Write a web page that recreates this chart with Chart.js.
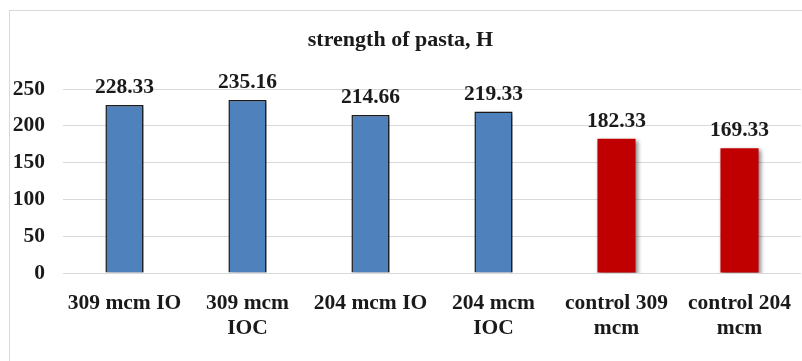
<!DOCTYPE html>
<html>
<head>
<meta charset="utf-8">
<title>strength of pasta, H</title>
<script src="https://cdn.jsdelivr.net/npm/chart.js@4.4.1/dist/chart.umd.min.js"></script>
<style>
  html, body { margin: 0; padding: 0; background: #ffffff; }
  #wrap { position: relative; width: 802px; height: 361px; overflow: hidden; }
  #frame { position: absolute; left: 9px; top: 10px; width: 900px; height: 400px;
           border: 1px solid #d9d9d9; box-sizing: border-box; }
  canvas { position: absolute; left: 0; top: 0; }
</style>
</head>
<body>
<div id="wrap">
  <div id="frame"></div>
  <canvas id="chart" width="802" height="361"></canvas>
</div>
<script>
// Samples (multi-line category labels) and measured strength values
const categories = [
  ["309 mcm IO"],
  ["309 mcm", "IOC"],
  ["204 mcm IO"],
  ["204 mcm", "IOC"],
  ["control 309", "mcm"],
  ["control 204", "mcm"]
];
const strength = [228.33, 235.16, 214.66, 219.33, 182.33, 169.33];
const isControl = [false, false, false, false, true, true];
const yTickValues = [0, 50, 100, 150, 200, 250];

const FONT = "'Liberation Serif', 'Times New Roman', serif";
const TEXT = '#1a1a1a';
const BLUE = '#4f81bd';
const RED = '#c00000';
const SIZE = 21.5;

// Soft drop shadow under the bars, then the value labels on top
const barDecor = {
  id: 'barDecor',
  beforeDatasetsDraw(chart) {
    const ctx = chart.ctx;
    ctx.save();
    ctx.shadowColor = 'rgba(0,0,0,0.45)';
    ctx.shadowBlur = 4;
    ctx.shadowOffsetX = 2;
    ctx.shadowOffsetY = 2;
  },
  afterDatasetsDraw(chart) {
    const ctx = chart.ctx;
    ctx.restore();
    ctx.save();
    ctx.font = 'bold ' + SIZE + 'px ' + FONT;
    ctx.fillStyle = TEXT;
    ctx.textAlign = 'center';
    ctx.textBaseline = 'alphabetic';
    const meta = chart.getDatasetMeta(0);
    meta.data.forEach((bar, i) => {
      ctx.fillText(strength[i].toFixed(2), bar.x, bar.y - 12);
    });
    ctx.restore();
  }
};

new Chart(document.getElementById('chart'), {
  type: 'bar',
  data: {
    labels: categories,
    datasets: [{
      data: strength,
      backgroundColor: ctx => isControl[ctx.dataIndex] ? RED : BLUE,
      borderColor: '#1c1c1c',
      borderWidth: ctx => isControl[ctx.dataIndex] ? 0 : 1.5,
      barPercentage: 0.31,
      categoryPercentage: 1.0
    }]
  },
  options: {
    responsive: false,
    animation: false,
    layout: { padding: { left: 0, right: 1, top: 0, bottom: 0 } },
    plugins: {
      legend: { display: false },
      tooltip: { enabled: false },
      title: {
        display: true,
        text: 'strength of pasta, H',
        color: TEXT,
        font: { family: FONT, size: 22, weight: 'bold', lineHeight: 1.2 },
        padding: { top: 27, bottom: 35.6 }
      }
    },
    scales: {
      x: {
        grid: { display: false },
        border: { display: false },
        ticks: {
          color: TEXT,
          font: { family: FONT, size: SIZE, weight: 'bold', lineHeight: 1.17 },
          padding: 10,
          maxRotation: 0,
          autoSkip: false
        },
        afterFit(scale) { scale.height = 88; }
      },
      y: {
        min: 0,
        max: 250,
        afterBuildTicks(scale) { scale.ticks = yTickValues.map(v => ({ value: v })); },
        grid: { color: '#d9d9d9', lineWidth: 1, drawTicks: false },
        border: { display: false },
        ticks: {
          color: TEXT,
          font: { family: FONT, size: SIZE, weight: 'bold' },
          padding: 18
        },
        afterFit(scale) { scale.width = 63; }
      }
    }
  },
  plugins: [barDecor]
});
</script>
</body>
</html>
